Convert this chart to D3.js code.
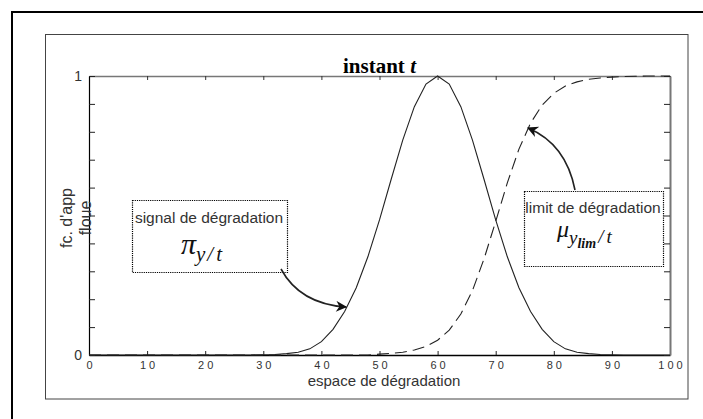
<!DOCTYPE html>
<html>
<head>
<meta charset="utf-8">
<script src="https://cdn.jsdelivr.net/npm/d3@7"></script>
<style>
  html, body { margin: 0; padding: 0; background: #fff; }
  svg { display: block; }
  text { font-family: "Liberation Sans", Arial, Helvetica, sans-serif; }
</style>
</head>
<body>
<svg id="chart" width="703" height="419"></svg>
<script>
// ---- data ----
const xValues = [0,2,4,6,8,10,12,14,16,18,20,22,24,26,28,30,32,34,36,38,40,42,44,46,48,50,
                 52,54,56,58,60,62,64,66,68,70,72,74,76,78,80,82,84,86,88,90,92,94,96,98,100];
const signalValues = [0,0,0,0,0,0,0,0,0,0,0,0,0,0,0,0.001,0.002,0.005,0.010,0.022,0.048,0.092,0.156,0.241,0.352,0.484,
                      0.629,0.770,0.890,0.971,1.000,0.971,0.890,0.770,0.629,0.484,0.352,0.241,0.156,0.092,0.048,0.022,0.010,0.005,0.002,0.001,0,0,0,0,0];
const limitValues = [0,0,0,0,0,0,0,0,0,0,0,0,0,0,0,0,0,0,0,0,0,0,0,0,0,0.003,
                     0.006,0.010,0.018,0.031,0.053,0.089,0.147,0.231,0.345,0.479,0.617,0.738,0.831,0.896,0.938,0.964,0.979,0.988,0.993,0.996,0.998,0.999,1,1,1];
const xTicks = [0,10,20,30,40,50,60,70,80,90,100];
const yTicks = [0,0.1,0.2,0.3,0.4,0.5,0.6,0.7,0.8,0.9,1];
const yTickLabels = {0: "0", 1: "1"};
const titleMain = "instant ";
const titleVar = "t";
const xLabel = "espace de dégradation";
const yLabelLines = ["fc. d'app", "floue"];
const signalBoxText = "signal de dégradation";
const limitBoxText = "limit de dégradation";

// ---- layout ----
const svg = d3.select("#chart");
const plot = {left: 89, right: 670, top: 76, bottom: 355};
const x = d3.scaleLinear().domain([0, 100]).range([plot.left, plot.right]);
const y = d3.scaleLinear().domain([0, 1]).range([plot.bottom, plot.top]);
const textColor = "#333";

// outer frame (partially cropped) and inner figure box
svg.append("rect").attr("x", 12).attr("y", 12).attr("width", 720).attr("height", 440)
  .attr("fill", "none").attr("stroke", "#000").attr("stroke-width", 2);
svg.append("rect").attr("x", 45.5).attr("y", 34.5).attr("width", 642.5).attr("height", 364.5)
  .attr("fill", "none").attr("stroke", "#444").attr("stroke-width", 1);

// axes
const gx = svg.append("g").attr("transform", `translate(0,${plot.bottom})`)
  .call(d3.axisBottom(x).tickValues(xTicks).tickSize(-4).tickSizeOuter(0).tickPadding(6)
        .tickFormat(d => String(d)));
gx.select(".domain").attr("stroke", "#000").attr("stroke-width", 1.6);
gx.selectAll(".tick line").attr("stroke", "#222");
gx.selectAll(".tick text").attr("font-size", 11).attr("fill", textColor)
  .attr("letter-spacing", "3px").attr("dx", "1.5px")
  .style("font-family", '"Liberation Sans", Arial, sans-serif');

const gt = svg.append("g").attr("transform", `translate(0,${plot.top})`)
  .call(d3.axisTop(x).tickValues(xTicks).tickSize(-4).tickSizeOuter(0).tickFormat(""));
gt.select(".domain").attr("stroke", "#777").attr("stroke-width", 1.5);
gt.selectAll(".tick line").attr("stroke", "#333");

const gy = svg.append("g").attr("transform", `translate(${plot.left},0)`)
  .call(d3.axisLeft(y).tickValues(yTicks).tickSize(-6).tickSizeOuter(0).tickPadding(7)
        .tickFormat(d => yTickLabels[d] !== undefined ? yTickLabels[d] : ""));
gy.select(".domain").attr("stroke", "#000").attr("stroke-width", 1.2);
gy.selectAll(".tick line").attr("stroke", "#222");
gy.selectAll(".tick text").attr("font-size", 14).attr("fill", textColor)
  .style("font-family", '"Liberation Sans", Arial, sans-serif');

const gr = svg.append("g").attr("transform", `translate(${plot.right},0)`)
  .call(d3.axisRight(y).tickValues(yTicks).tickSize(-6).tickSizeOuter(0).tickFormat(""));
gr.select(".domain").attr("stroke", "#777").attr("stroke-width", 2);
gr.selectAll(".tick line").attr("stroke", "#222");

// curves
const line = d3.line().x((d, i) => x(xValues[i])).y(d => y(d));
svg.append("path").datum(signalValues).attr("d", line)
  .attr("fill", "none").attr("stroke", "#222").attr("stroke-width", 1.1);
svg.append("path").datum(limitValues).attr("d", line)
  .attr("fill", "none").attr("stroke", "#222").attr("stroke-width", 1.1)
  .attr("stroke-dasharray", "12,6");

// title
const title = svg.append("text").attr("x", (plot.left + plot.right) / 2).attr("y", 73)
  .attr("text-anchor", "middle").attr("font-size", 21).attr("font-weight", "bold")
  .style("font-family", '"Liberation Serif", "Times New Roman", serif').attr("fill", "#000");
title.append("tspan").text(titleMain);
title.append("tspan").attr("font-style", "italic").text(titleVar);

// axis labels
svg.append("text").attr("x", 384).attr("y", 386).attr("text-anchor", "middle")
  .attr("font-size", 15).attr("fill", textColor).text(xLabel);
const yl = svg.append("text").attr("transform", "translate(72,218) rotate(-90)")
  .attr("text-anchor", "middle").attr("font-size", 16).attr("fill", textColor);
yl.append("tspan").attr("x", 0).attr("dy", 0).text(yLabelLines[0]);
yl.append("tspan").attr("x", 0).attr("dy", 19).text(yLabelLines[1]);

// arrow marker
const defs = svg.append("defs");
defs.append("marker").attr("id", "arrow").attr("viewBox", "0 0 10 10")
  .attr("refX", 9).attr("refY", 5).attr("markerUnits", "userSpaceOnUse")
  .attr("markerWidth", 13).attr("markerHeight", 11).attr("orient", "auto")
  .append("path").attr("d", "M0,0 L10,5 L0,10 L3,5 Z").attr("fill", "#111");

// annotation boxes
function annBox(x0, y0, w, h) {
  svg.append("rect").attr("x", x0 + 0.5).attr("y", y0 + 0.5).attr("width", w).attr("height", h)
    .attr("fill", "#fff").attr("stroke", "#000").attr("stroke-width", 1.2)
    .attr("stroke-dasharray", "1.2,1");
}
annBox(132, 200, 155, 72);
annBox(524, 191, 139, 75);

svg.append("text").attr("x", 209).attr("y", 223).attr("text-anchor", "middle")
  .attr("font-size", 15.5).attr("fill", textColor).text(signalBoxText);
svg.append("text").attr("x", 593).attr("y", 213).attr("text-anchor", "middle")
  .attr("font-size", 15.5).attr("fill", textColor).text(limitBoxText);

// formula pi_{y/t}
const serif = '"Liberation Serif", "Times New Roman", serif';
const f1 = svg.append("text").attr("x", 181).attr("y", 254)
  .style("font-family", serif).attr("font-style", "italic").attr("fill", "#111");
f1.append("tspan").attr("font-size", 30).text("π");
f1.append("tspan").attr("font-size", 21).attr("dy", 7).text("y");
f1.append("tspan").attr("font-size", 21).attr("dx", 2).text("/");
f1.append("tspan").attr("font-size", 21).attr("dx", 3).text("t");

// formula mu_{y_{lim}/t}
const f2 = svg.append("text").attr("x", 557).attr("y", 237)
  .style("font-family", serif).attr("font-style", "italic").attr("fill", "#111");
f2.append("tspan").attr("font-size", 24).text("μ");
f2.append("tspan").attr("font-size", 19).attr("dy", 7).text("y");
f2.append("tspan").attr("font-size", 14).attr("dy", 4).attr("font-weight", "bold").text("lim");
f2.append("tspan").attr("font-size", 19).attr("dy", -5).attr("dx", 2).text("/");
f2.append("tspan").attr("font-size", 19).attr("dx", 3).text("t");

// arrows
svg.append("path").attr("d", "M281,269 Q300,304 346,307")
  .attr("fill", "none").attr("stroke", "#222").attr("stroke-width", 1.6)
  .attr("marker-end", "url(#arrow)");
svg.append("path").attr("d", "M575,190 Q566,144 528,128")
  .attr("fill", "none").attr("stroke", "#222").attr("stroke-width", 1.6)
  .attr("marker-end", "url(#arrow)");
</script>
</body>
</html>
